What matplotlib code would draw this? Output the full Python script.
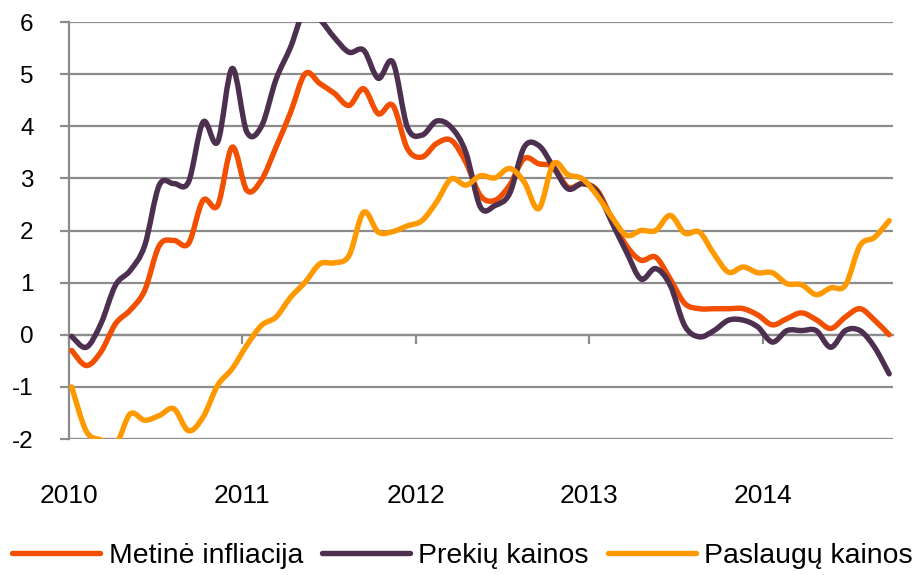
import matplotlib.pyplot as plt
from matplotlib.path import Path
from matplotlib.patches import PathPatch
from matplotlib.lines import Line2D

plt.rcParams['font.family'] = ['Liberation Sans', 'DejaVu Sans']

# monthly values, Jan 2010 .. Sep 2014
metine = [-0.30, -0.59, -0.33, 0.21, 0.47, 0.85, 1.71, 1.81, 1.75, 2.58,
          2.48, 3.60, 2.77, 2.97, 3.60, 4.27, 5.01, 4.82, 4.63, 4.40,
          4.72, 4.24, 4.40, 3.57, 3.41, 3.67, 3.73, 3.31, 2.67, 2.58,
          2.87, 3.38, 3.28, 3.22, 2.83, 2.90, 2.77, 2.23, 1.71, 1.43,
          1.49, 1.07, 0.60, 0.50, 0.50, 0.50, 0.50, 0.38, 0.19, 0.31,
          0.42, 0.29, 0.12, 0.34, 0.50, 0.28, 0.00]
prekiu = [-0.03, -0.24, 0.21, 0.95, 1.23, 1.71, 2.87, 2.90, 2.93, 4.08,
          3.70, 5.11, 3.89, 4.00, 4.90, 5.52, 6.25, 6.05, 5.70, 5.42,
          5.46, 4.92, 5.23, 3.98, 3.83, 4.10, 3.98, 3.50, 2.45, 2.48,
          2.71, 3.60, 3.63, 3.22, 2.80, 2.90, 2.74, 2.16, 1.59, 1.07,
          1.27, 0.95, 0.17, -0.04, 0.08, 0.28, 0.28, 0.15, -0.14, 0.08,
          0.08, 0.08, -0.24, 0.08, 0.08, -0.24, -0.75]
paslaugu = [-1.00, -1.85, -2.02, -2.12, -1.52, -1.64, -1.55, -1.42, -1.84, -1.58,
            -0.97, -0.65, -0.20, 0.18, 0.34, 0.72, 1.01, 1.36, 1.38, 1.52,
            2.35, 1.97, 1.98, 2.09, 2.19, 2.55, 2.99, 2.87, 3.05, 3.01,
            3.19, 2.93, 2.42, 3.28, 3.07, 2.99, 2.67, 2.26, 1.91, 2.00,
            2.00, 2.29, 1.95, 1.97, 1.55, 1.20, 1.30, 1.19, 1.19, 0.98,
            0.96, 0.77, 0.90, 0.95, 1.71, 1.87, 2.19]
years = ['2010', '2011', '2012', '2013', '2014']
names = ['Metinė infliacija', 'Prekių kainos', 'Paslaugų kainos']
colors = ['#F24F00', '#4D2F4F', '#FF9900']

grid_col = '#8C8C8C'


def smooth_path(ys):
    # excel-like smoothed line: cubic bezier through every point
    pts = list(enumerate(ys))
    verts = [pts[0]]
    codes = [Path.MOVETO]
    n = len(pts)
    for i in range(n - 1):
        p0 = pts[max(i - 1, 0)]
        p1 = pts[i]
        p2 = pts[i + 1]
        p3 = pts[min(i + 2, n - 1)]
        c1 = (p1[0] + (p2[0] - p0[0]) / 6, p1[1] + (p2[1] - p0[1]) / 6)
        c2 = (p2[0] - (p3[0] - p1[0]) / 6, p2[1] - (p3[1] - p1[1]) / 6)
        verts += [c1, c2, p2]
        codes += [Path.CURVE4] * 3
    return Path(verts, codes)


fig = plt.figure(figsize=(9.16, 5.75), dpi=100)
ax = fig.add_axes([0.0753, 0.2365, 0.8997, 0.7252])

for ys, c in zip([metine, prekiu, paslaugu], colors):
    ax.add_patch(PathPatch(smooth_path(ys), fill=False, edgecolor=c, lw=3.9,
                           capstyle='round', joinstyle='round', zorder=3))

for s in ['top', 'right']:
    ax.spines[s].set_visible(False)
ax.spines['left'].set_color(grid_col)
ax.spines['left'].set_linewidth(1.6)
ax.spines['bottom'].set_position(('data', 0))
ax.spines['bottom'].set_color(grid_col)
ax.spines['bottom'].set_linewidth(1.6)

ax.set_xlim(-0.185, 56.27)
ax.set_ylim(-2, 6)
ax.set_yticks(range(-2, 7))
ax.set_yticklabels([str(v) for v in range(-2, 7)])
ax.yaxis.grid(True, color=grid_col, lw=1.6, zorder=1)
ax.set_axisbelow(True)

tick_pos = [-0.185, 11.66, 23.58, 35.43, 47.35]
ax.set_xticks(tick_pos)
ax.set_xticklabels(years)

ax.tick_params(axis='y', length=6.5, width=1.6, color=grid_col, pad=19,
               labelsize=17.5)
ax.tick_params(axis='x', length=6.5, width=1.6, color=grid_col, pad=101,
               labelsize=19)

handles = [Line2D([], [], color=c, lw=3.9, solid_capstyle='round') for c in colors]
fig.legend(handles, names, loc='center', bbox_to_anchor=(0.505, 0.033), ncol=3,
           frameon=False, fontsize=20.4, handlelength=3.1, handletextpad=0.29,
           columnspacing=0.68, borderpad=0, borderaxespad=0)

fig.savefig('out.png', dpi=100)
